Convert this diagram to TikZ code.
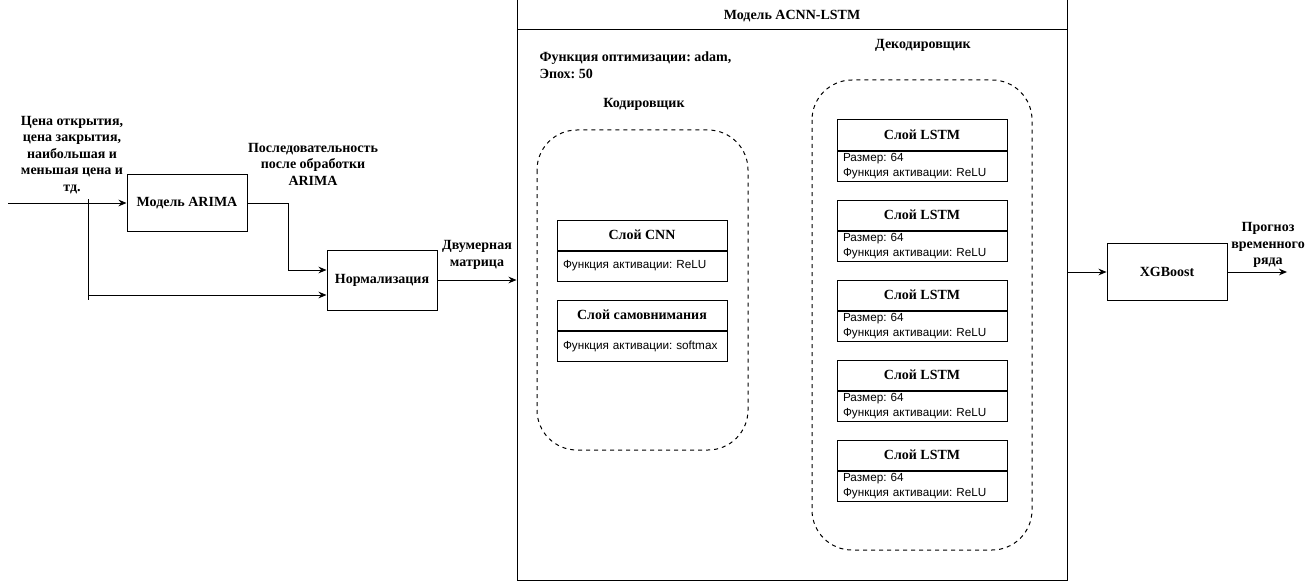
\documentclass[tikz,border=0pt]{standalone}
\usepackage{fontspec}
\setmainfont{Liberation Serif}
\setsansfont{Liberation Sans}
\usetikzlibrary{arrows.meta,shapes,positioning}
\tikzstyle{block} = [rectangle, draw=black, minimum width=90pt, minimum height=43pt, inner sep=0pt, font=\fontsize{10.5}{12}\selectfont\bfseries]
\tikzstyle{head} = [rectangle, draw=black, minimum width=127.5pt, minimum height=22.5pt, inner sep=0pt, font=\fontsize{10.5}{12}\selectfont\bfseries]
\tikzstyle{body} = [rectangle, draw=black, minimum width=127.5pt, minimum height=22.5pt, text width=118.5pt, inner xsep=4.5pt, inner ysep=0pt, align=left, font=\fontsize{8.8}{11.25}\selectfont\sffamily]
\tikzstyle{label} = [align=center, inner sep=0pt, font=\fontsize{10.5}{12.4}\selectfont\bfseries]
\tikzstyle{zone} = [draw, dashed, rounded corners=30pt]
\tikzstyle{arrow} = [->, >={Stealth[length=6pt,width=5pt]}]
\begin{document}
\frenchspacing
\hyphenpenalty=10000
\begin{tikzpicture}[x=0.75pt, y=-0.75pt, line width=0.75pt]
\useasboundingbox (0,0) rectangle (1308,581);
% input side
\node [block] (arima) at (187,203) {Модель ARIMA};
\node [block, minimum width=82.5pt, minimum height=45pt] (norm) at (382,280) {Нормализация};
\coordinate (in) at (8,203);
\coordinate (top) at (88,199);
\coordinate (bot) at (88,300);
\coordinate (br) at (88,295);
\draw [arrow] (in) -- (arima.west);
\draw (top) -- (bot);
\draw [arrow] (br) -- (br -| norm.west);
\draw [arrow] (arima.east) -- ++(41,0) |- ([yshift=7.5pt]norm.west);
\node [label] (inlbl) at (72,155) {Цена открытия,\\цена закрытия,\\наибольшая и\\меньшая цена и\\тд.};
\node [label] (arimalbl) at (313,164) {Последовательность\\после обработки\\ARIMA};
\node [label] (matlbl) at (477,255) {Двумерная\\матрица};
% model
\node [draw, minimum width=412.5pt, minimum height=435pt] (acnn) at (792,290) {};
\coordinate (tl) at (517,30);
\draw (tl) -- (tl -| acnn.east);
\node [label] (title) at (792,16) {Модель ACNN-LSTM};
\node [label, align=left, anchor=west] (opt) at (539,65) {Функция оптимизации: adam,\\Эпох: 50};
\node [label] (enclbl) at (644,104) {Кодировщик};
\node [label] (declbl) at (923,45) {Декодировщик};
\draw [zone] (537,130) rectangle (748,450);
\draw [zone] (812,80) rectangle (1032,550);
\draw [arrow] (norm.east) -- (norm.east -| acnn.west);
% encoder
\node [head] (cnn) at (642,235) {Слой CNN};
\node [body, below=0pt of cnn] (cnnb) {Функция активации: ReLU};
\node [head] (att) at (642,315) {Слой самовнимания};
\node [body, below=0pt of att] (attb) {Функция активации: softmax};
% decoder
\foreach \y [count=\i] in {120,200,280,360,440} {
  \node [head] (lstm\i) at (922,\y+15) {Слой LSTM};
  \node [body, below=0pt of lstm\i] (lstmb\i) {Размер: 64\\Функция активации: ReLU};
}
% output
\node [block] (xgb) at (1167,272) {XGBoost};
\coordinate (out) at (1287,272);
\draw [arrow] (acnn.east |- xgb.west) -- (xgb.west);
\draw [arrow] (xgb.east) -- (out);
\node [label] (outlbl) at (1268,245) {Прогноз\\временного\\ряда};
\end{tikzpicture}
\end{document}
